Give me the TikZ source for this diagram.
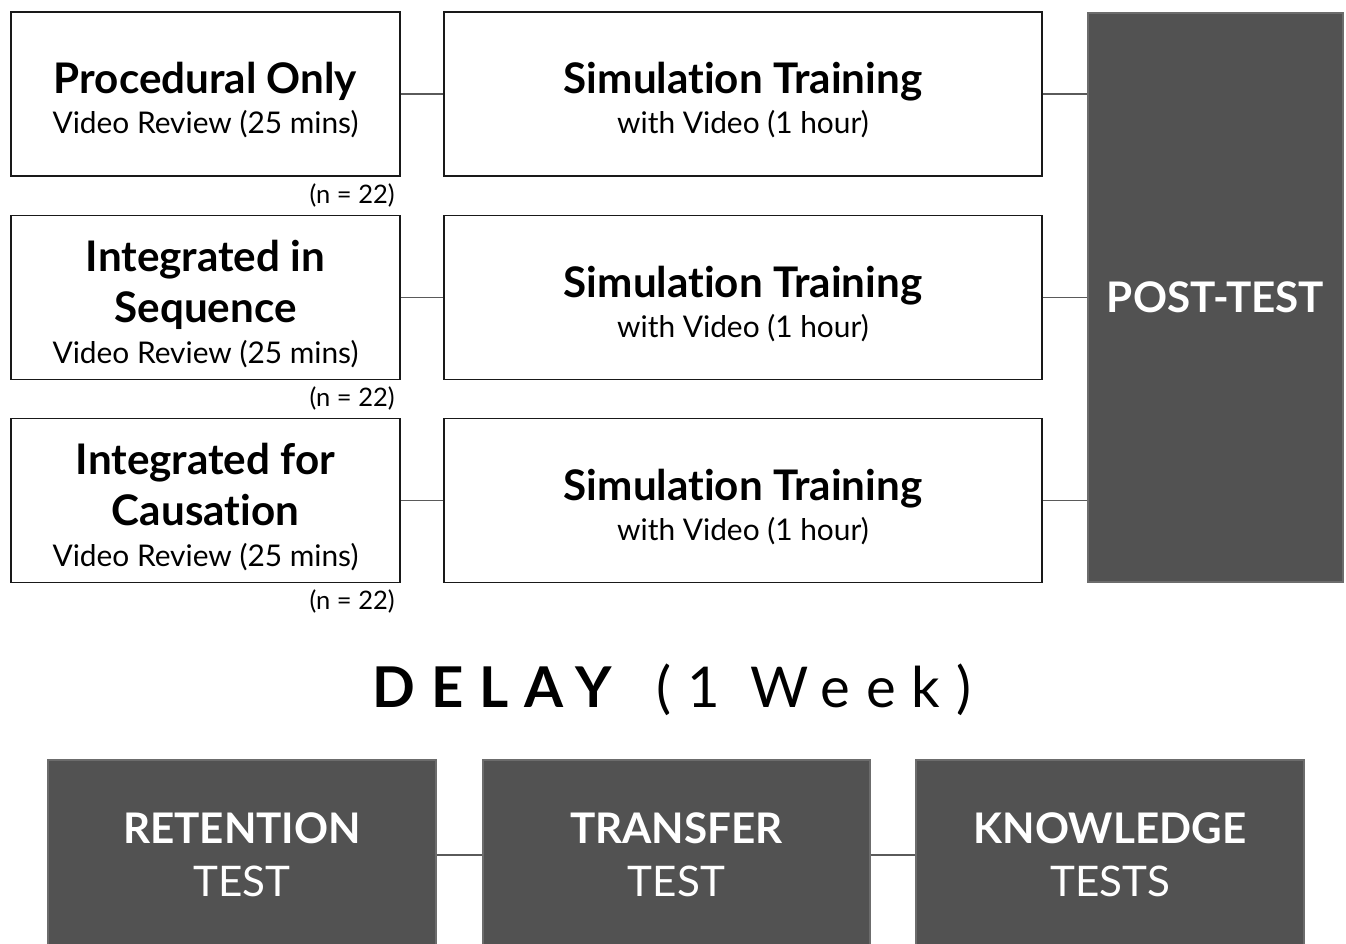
\documentclass[tikz,border=0pt]{standalone}
\usepackage{fontspec}
\setmainfont{Lato}[Ligatures=NoCommon]
\usetikzlibrary{positioning}

\definecolor{darkgrey}{HTML}{525252}
\definecolor{linkgrey}{HTML}{5A5A5A}

\newcommand{\hd}[1]{{\fontsize{24}{30}\selectfont\bfseries #1}}
\newcommand{\lead}{\rule{0pt}{25pt}}

\tikzset{
  whitebox/.style={draw=black!90, line width=1.1pt, fill=white, align=center,
    inner sep=0pt, minimum height=3.28cm, font=\fontsize{17}{23}\selectfont},
  darkbox/.style={draw=darkgrey!85!white, line width=0.6pt, fill=darkgrey, text=white,
    align=center, inner sep=0pt, font=\fontsize{24}{30}\selectfont},
  link/.style={draw=linkgrey, line width=0.8pt},
  count/.style={font=\fontsize{14.5}{16}\selectfont, inner sep=0pt, anchor=north east},
}

\begin{document}
\begin{tikzpicture}
  \clip (0,0) rectangle (26.92,-18.88);

  % groups
  \node[whitebox, minimum width=7.78cm] (proc) at (4.11,-1.88)
    {\lead\hd{Procedural Only}\\Video Review (25 mins)};
  \node[whitebox, minimum width=7.78cm] (seq) at (4.11,-5.95)
    {\lead\hd{Integrated in}\\[6.5pt]\hd{Sequence}\\Video Review (25 mins)};
  \node[whitebox, minimum width=7.78cm] (caus) at (4.11,-10.01)
    {\lead\hd{Integrated for}\\[6.5pt]\hd{Causation}\\Video Review (25 mins)};

  \node[count] (nproc) at ([xshift=-0.12cm,yshift=-0.12cm]proc.south east) {(n = 22)};
  \node[count] (nseq) at ([xshift=-0.12cm,yshift=-0.12cm]seq.south east) {(n = 22)};
  \node[count] (ncaus) at ([xshift=-0.12cm,yshift=-0.12cm]caus.south east) {(n = 22)};

  % training
  \node[whitebox, minimum width=11.96cm] (sim1) at (14.86,-1.88)
    {\lead\hd{Simulation Training}\\with Video (1 hour)};
  \node[whitebox, minimum width=11.96cm] (sim2) at (14.86,-5.95)
    {\lead\hd{Simulation Training}\\with Video (1 hour)};
  \node[whitebox, minimum width=11.96cm] (sim3) at (14.86,-10.01)
    {\lead\hd{Simulation Training}\\with Video (1 hour)};

  \node[darkbox, minimum width=5.10cm, minimum height=11.38cm] (post) at (24.31,-5.95)
    {\bfseries POST-TEST};

  \draw[link] (proc.east) -- (sim1.west);
  \draw[link] (seq.east) -- (sim2.west);
  \draw[link] (caus.east) -- (sim3.west);
  \draw[link] (sim1.east) -- (sim1.east -| post.west);
  \draw[link] (sim2.east) -- (sim2.east -| post.west);
  \draw[link] (sim3.east) -- (sim3.east -| post.west);

  % delay
  \node[font=\fontsize{32}{36}\selectfont\addfontfeature{LetterSpace=28}] (delay) at (13.44,-13.8)
    {{\bfseries DELAY}\hspace{0.3cm} (1 Week)};

  % tests
  \node[darkbox, minimum width=7.76cm, minimum height=3.8cm] (ret) at (4.84,-17.1)
    {\bfseries RETENTION\\TEST};
  \node[darkbox, minimum width=7.74cm, minimum height=3.8cm] (trans) at (13.53,-17.1)
    {\bfseries TRANSFER\\TEST};
  \node[darkbox, minimum width=7.76cm, minimum height=3.8cm] (know) at (22.2,-17.1)
    {\bfseries KNOWLEDGE\\TESTS};

  \draw[link] (ret.east) -- (trans.west);
  \draw[link] (trans.east) -- (know.west);
\end{tikzpicture}
\end{document}
